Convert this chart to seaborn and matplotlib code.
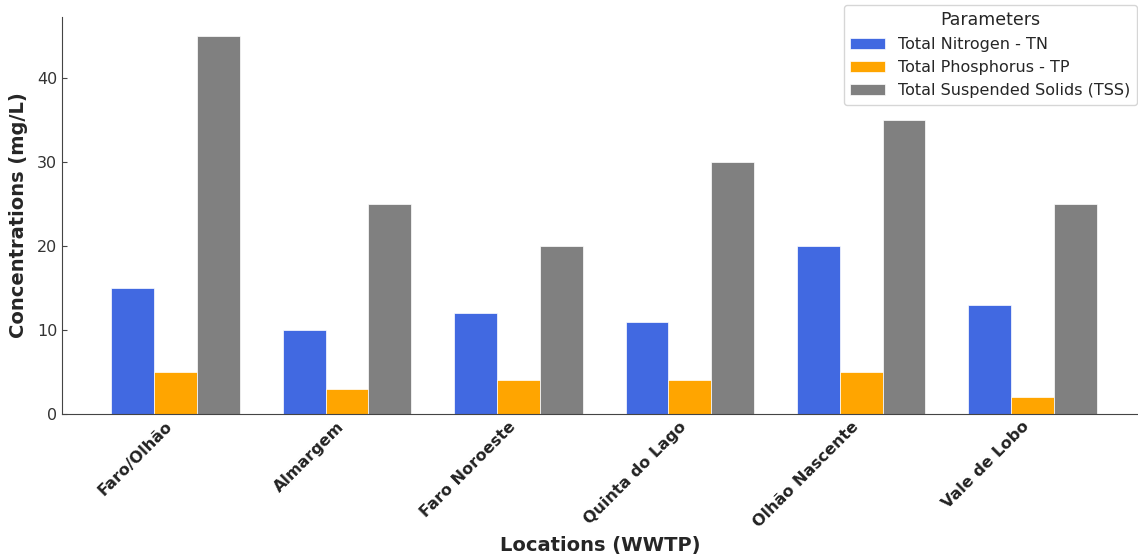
import numpy as np
import pandas as pd
import matplotlib
matplotlib.use('Agg')
import matplotlib.pyplot as plt
import seaborn as sns

locations = ['Faro/Olhão', 'Almargem', 'Faro Noroeste', 'Quinta do Lago', 'Olhão Nascente', 'Vale de Lobo']
parameters = ['Total Nitrogen - TN', 'Total Phosphorus - TP', 'Total Suspended Solids (TSS)']
tn = [15, 10, 12, 11, 20, 13]
tp = [5, 3, 4, 4, 5, 2]
tss = [45, 25, 20, 30, 35, 25]
colors = ['royalblue', 'orange', 'gray']

df = pd.DataFrame({
    'Location': locations * 3,
    'Parameter': [parameters[0]] * 6 + [parameters[1]] * 6 + [parameters[2]] * 6,
    'Value': tn + tp + tss,
})

sns.set_style('ticks')
plt.rcParams['font.family'] = ['DejaVu Sans']

fig = plt.figure(figsize=(11.38, 5.56), dpi=100)
ax = fig.add_axes([0.0545, 0.2554, 0.9455, 0.714])

sns.barplot(data=df, x='Location', y='Value', hue='Parameter', palette=colors,
            saturation=1, width=0.75, gap=0, edgecolor='white', linewidth=0.5, ax=ax)

ax.set_xlim(-0.6625, 5.615)
ax.set_ylim(0, 47.25)
ax.set_yticks([0, 10, 20, 30, 40])
sns.despine(ax=ax)
for s in ['left', 'bottom']:
    ax.spines[s].set_color('#444444')

ax.set_xlabel('Locations (WWTP)', fontsize=14, fontweight='bold', labelpad=4)
ax.set_ylabel('Concentrations (mg/L)', fontsize=14, fontweight='bold', labelpad=6)
ax.tick_params(axis='both', direction='in', labelsize=11.5, colors='#444444', labelcolor='#333333')
plt.setp(ax.get_xticklabels(), rotation=45, ha='right', fontweight='bold', color='#222222')

ax.legend(title='Parameters', fontsize=11.5, title_fontsize=12.5, handlelength=2.2,
          loc='upper right', bbox_to_anchor=(0.999, 0.991), bbox_transform=fig.transFigure,
          borderaxespad=0)

fig.savefig('out.png', dpi=100)
